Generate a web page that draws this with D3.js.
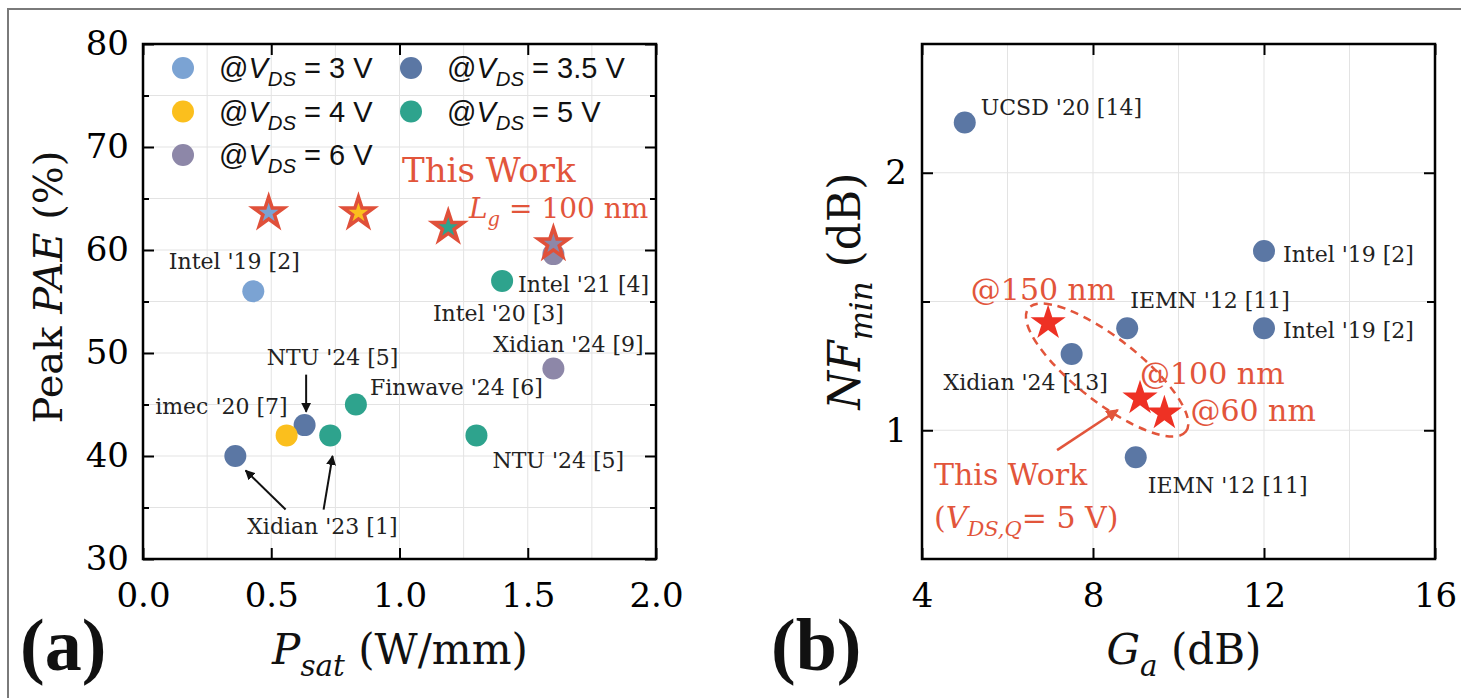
<!DOCTYPE html>
<html>
<head>
<meta charset="utf-8">
<script src="https://cdn.jsdelivr.net/npm/d3@7"></script>
<style>
  body { margin: 0; background: #fff; }
  text { font-family: "DejaVu Serif", serif; }
</style>
</head>
<body>
<div id="fig"></div>
<script>
// ---- panel (a): Peak PAE vs Psat ----
var aLabels = ["Intel '19 [2]", "Intel '21 [4]", "Intel '20 [3]", "Xidian '24 [9]", "NTU '24 [5]",
               "imec '20 [7]", "Xidian '23 [1]", "", "Finwave '24 [6]", "NTU '24 [5]"];
var aPsat = [0.43, 1.40, 1.60, 1.60, 0.63, 0.56, 0.36, 0.73, 0.83, 1.30];
var aPae  = [56, 57, 59.6, 48.5, 43, 42, 40, 42, 45, 42];
var aVds  = ["3", "5", "6", "6", "3.5", "4", "3.5", "5", "5", "5"];

var starPsat = [0.49, 0.84, 1.19, 1.60];
var starPae  = [63.6, 63.6, 62.2, 60.6];
var starVds  = ["3", "4", "5", "6"];

var vdsLevels = ["3", "3.5", "4", "5", "6"];
var vdsColors = ["#7ba3d3", "#5b77a4", "#fbbf1d", "#2ea38d", "#8d87a8"];

var aXTicks = [0.0, 0.5, 1.0, 1.5, 2.0];
var aYTicks = [30, 40, 50, 60, 70, 80];

// ---- panel (b): NFmin vs Ga ----
var bLabels = ["UCSD '20 [14]", "Intel '19 [2]", "Intel '19 [2]", "IEMN '12 [11]", "Xidian '24 [13]", "IEMN '12 [11]"];
var bGa = [5.0, 12.0, 12.0, 8.8, 7.5, 9.0];
var bNf = [2.29, 1.62, 1.316, 1.316, 1.228, 0.93];

var bStarLabels = ["@150 nm", "@100 nm", "@60 nm"];
var bStarGa = [6.95, 9.1, 9.67];
var bStarNf = [1.335, 1.09, 1.047];

var bXTicks = [4, 8, 12, 16];
var bYTicks = [1, 2];

// label placement (pixel offsets from the point, anchor)
var aLabelPos = [[-19, -30, "middle"], [16, 3, "start"], [-55, 59, "middle"], [15, -24, "middle"],
                 [28, -68, "middle"], [1, -29, "end"], [87, 70, "middle"], null,
                 [14, -17, "start"], [16, 25, "start"]];
var bLabelPos = [[16, -15, "start"], [19, 3, "start"], [19, 2, "start"], [3, -28, "start"],
                 [-46, 28, "middle"], [12, 28, "start"]];
var bStarLabelPos = [[-5, -33, "middle"], [0, -25, "start"], [26, -3, "start"]];

var red = "#e2553b";

var svg = d3.select("#fig").append("svg")
  .attr("width", 1461)
  .attr("height", 698);

var defs = svg.append("defs");
[["arrK", "#111"], ["arrR", red]].forEach(function(m) {
  defs.append("marker")
    .attr("id", m[0])
    .attr("viewBox", "0 0 10 10")
    .attr("refX", 9).attr("refY", 5)
    .attr("markerWidth", 5).attr("markerHeight", 5)
    .attr("orient", "auto")
    .append("path").attr("d", "M0,0 L10,5 L0,10 z").attr("fill", m[1]);
});

// outer figure border
svg.append("rect")
  .attr("x", 8).attr("y", 9).attr("width", 1470).attr("height", 720)
  .attr("fill", "none").attr("stroke", "#7a7a7a").attr("stroke-width", 2);

// rich text with italic / subscript parts
function rich(sel, parts, size) {
  var sub = false;
  parts.forEach(function(p) {
    var ts = sel.append("tspan").text(p[0]);
    var st = p[1] || "";
    if (st.indexOf("i") >= 0) ts.attr("font-style", "italic");
    if (st.indexOf("s") >= 0) {
      ts.attr("font-size", size * 0.7);
      if (!sub) ts.attr("dy", size * 0.28);
      sub = true;
    } else if (sub) {
      ts.attr("dy", -size * 0.28);
      sub = false;
    }
  });
}

function colorOf(v) { return vdsColors[vdsLevels.indexOf(v)]; }

var star = function(R) { return d3.symbol(d3.symbolStar, R * R / 0.8908130915292852)(); };

function styleAxis(g, size) {
  g.select(".domain").remove();
  g.selectAll(".tick line").attr("stroke", "#000").attr("stroke-width", 2);
  g.attr("font-size", size);
  g.selectAll(".tick text").attr("fill", "#000");
}

// ================= panel (a) =================
var xa = d3.scaleLinear().domain([0, 2]).range([143, 656]);
var ya = d3.scaleLinear().domain([30, 80]).range([559, 44]);
var ga = svg.append("g");

ga.selectAll(".gx").data(d3.range(0.25, 2, 0.25)).join("line")
  .attr("x1", d => xa(d)).attr("x2", d => xa(d)).attr("y1", ya(30)).attr("y2", ya(80))
  .attr("stroke", "#e3e3e3").attr("stroke-width", 1);
ga.selectAll(".gy").data(d3.range(35, 80, 5)).join("line")
  .attr("y1", d => ya(d)).attr("y2", d => ya(d)).attr("x1", xa(0)).attr("x2", xa(2))
  .attr("stroke", "#e3e3e3").attr("stroke-width", 1);

ga.append("g").attr("transform", "translate(0,559)")
  .call(d3.axisBottom(xa).tickValues(aXTicks).tickSize(-11).tickPadding(24).tickFormat(d3.format(".1f")))
  .call(g => styleAxis(g, 34));
ga.append("g").attr("transform", "translate(0,44)")
  .call(d3.axisTop(xa).tickValues(aXTicks).tickSize(-11).tickFormat(""))
  .call(g => styleAxis(g, 34));
ga.append("g").attr("transform", "translate(143,0)")
  .call(d3.axisLeft(ya).tickValues(aYTicks).tickSize(-11).tickPadding(14).tickFormat(d3.format("d")))
  .call(g => styleAxis(g, 34));
ga.append("g").attr("transform", "translate(143,0)")
  .call(d3.axisLeft(ya).tickValues(d3.range(35, 80, 10)).tickSize(-6).tickFormat(""))
  .call(g => styleAxis(g, 34));
ga.append("g").attr("transform", "translate(656,0)")
  .call(d3.axisRight(ya).tickValues(aYTicks).tickSize(-11).tickFormat(""))
  .call(g => styleAxis(g, 34));
ga.append("g").attr("transform", "translate(656,0)")
  .call(d3.axisRight(ya).tickValues(d3.range(35, 80, 10)).tickSize(-6).tickFormat(""))
  .call(g => styleAxis(g, 34));

ga.append("rect").attr("x", xa(0)).attr("y", ya(80))
  .attr("width", xa(2) - xa(0)).attr("height", ya(30) - ya(80))
  .attr("fill", "none").attr("stroke", "#000").attr("stroke-width", 2.5);

// points
ga.selectAll(".pa").data(d3.range(aPsat.length)).join("circle")
  .attr("cx", i => xa(aPsat[i])).attr("cy", i => ya(aPae[i])).attr("r", 11)
  .attr("fill", i => colorOf(aVds[i]));

ga.selectAll(".sa").data(d3.range(starPsat.length)).join("path")
  .attr("transform", i => `translate(${xa(starPsat[i])},${ya(starPae[i])})`)
  .attr("d", star(16))
  .attr("fill", i => colorOf(starVds[i]))
  .attr("stroke", "#e0503a").attr("stroke-width", 3.5).attr("stroke-linejoin", "miter");

// point labels
aLabels.forEach(function(t, i) {
  var p = aLabelPos[i];
  if (!p) return;
  ga.append("text")
    .attr("x", xa(aPsat[i]) + p[0]).attr("y", ya(aPae[i]) + p[1])
    .attr("dy", "0.35em").attr("text-anchor", p[2])
    .attr("font-size", 22).attr("fill", "#222").text(t);
});

// arrows (data coordinates)
var aArrows = [[0.636, 47.9, 0.636, 44.3], [0.556, 34.8, 0.40, 38.6], [0.704, 34.8, 0.739, 40.0]];
ga.selectAll(".arr").data(aArrows).join("line")
  .attr("x1", d => xa(d[0])).attr("y1", d => ya(d[1]))
  .attr("x2", d => xa(d[2])).attr("y2", d => ya(d[3]))
  .attr("stroke", "#111").attr("stroke-width", 2).attr("marker-end", "url(#arrK)");

// legend
var legendRows = [["3", 0, 0], ["4", 0, 1], ["6", 0, 2], ["3.5", 1, 0], ["5", 1, 1]];
legendRows.forEach(function(r) {
  var cx = r[1] === 0 ? 183 : 411, cy = 68 + r[2] * 43.5;
  ga.append("circle").attr("cx", cx).attr("cy", cy).attr("r", 11).attr("fill", colorOf(r[0]));
  var t = ga.append("text").attr("x", cx + 36).attr("y", cy + 10)
    .style("font-family", "'Liberation Sans', Arial, sans-serif").attr("font-size", 29).attr("fill", "#111");
  rich(t, [["@"], ["V", "i"], ["DS", "is"], [" = " + r[0] + " V"]], 29);
});

ga.append("text").attr("x", 402).attr("y", 182).attr("font-size", 34).attr("fill", red).text("This Work");
var lg = ga.append("text").attr("x", 469).attr("y", 218).attr("font-size", 28).attr("fill", red);
rich(lg, [["L", "i"], ["g", "is"], [" = 100 nm"]], 28);

// axis titles
var ta = ga.append("text").attr("transform", "translate(62,287) rotate(-90)")
  .attr("text-anchor", "middle").attr("font-size", 40).attr("fill", "#111");
rich(ta, [["Peak "], ["PAE", "i"], [" (%)"]], 40);
var txa = ga.append("text").attr("x", 400).attr("y", 664)
  .attr("text-anchor", "middle").attr("font-size", 42).attr("fill", "#111");
rich(txa, [["P", "i"], ["sat", "is"], [" (W/mm)"]], 42);
ga.append("text").attr("x", 20).attr("y", 670)
  .style("font-family", "'Liberation Serif', serif").attr("font-weight", "bold")
  .attr("font-size", 74).attr("fill", "#111").text("(a)");

// ================= panel (b) =================
var xb = d3.scaleLinear().domain([4, 16]).range([922, 1435]);
var yb = d3.scaleLog().domain([Math.SQRT1_2, 2 * Math.SQRT2]).range([559, 44]);
var gb = svg.append("g");

gb.selectAll(".gx").data([6, 8, 10, 12, 14]).join("line")
  .attr("x1", d => xb(d)).attr("x2", d => xb(d)).attr("y1", 559).attr("y2", 44)
  .attr("stroke", "#e3e3e3").attr("stroke-width", 1);
gb.selectAll(".gy").data([1, Math.SQRT2, 2]).join("line")
  .attr("y1", d => yb(d)).attr("y2", d => yb(d)).attr("x1", 922).attr("x2", 1435)
  .attr("stroke", "#e3e3e3").attr("stroke-width", 1);

gb.append("g").attr("transform", "translate(0,559)")
  .call(d3.axisBottom(xb).tickValues(bXTicks).tickSize(-11).tickPadding(24).tickFormat(d3.format("d")))
  .call(g => styleAxis(g, 34));
gb.append("g").attr("transform", "translate(0,44)")
  .call(d3.axisTop(xb).tickValues(bXTicks).tickSize(-11).tickFormat(""))
  .call(g => styleAxis(g, 34));
gb.append("g").attr("transform", "translate(922,0)")
  .call(d3.axisLeft(yb).tickValues(bYTicks).tickSize(-11).tickPadding(15).tickFormat(d3.format("d")))
  .call(g => styleAxis(g, 34));
gb.append("g").attr("transform", "translate(922,0)")
  .call(d3.axisLeft(yb).tickValues([Math.SQRT2]).tickSize(-8).tickFormat(""))
  .call(g => styleAxis(g, 34));
gb.append("g").attr("transform", "translate(1435,0)")
  .call(d3.axisRight(yb).tickValues(bYTicks).tickSize(-11).tickFormat(""))
  .call(g => styleAxis(g, 34));
gb.append("g").attr("transform", "translate(1435,0)")
  .call(d3.axisRight(yb).tickValues([Math.SQRT2]).tickSize(-8).tickFormat(""))
  .call(g => styleAxis(g, 34));

gb.append("rect").attr("x", 922).attr("y", 44).attr("width", 1435 - 922).attr("height", 559 - 44)
  .attr("fill", "none").attr("stroke", "#000").attr("stroke-width", 2.5);

gb.selectAll(".pb").data(d3.range(bGa.length)).join("circle")
  .attr("cx", i => xb(bGa[i])).attr("cy", i => yb(bNf[i])).attr("r", 11)
  .attr("fill", "#5b77a4");

bLabels.forEach(function(t, i) {
  var p = bLabelPos[i];
  gb.append("text")
    .attr("x", xb(bGa[i]) + p[0]).attr("y", yb(bNf[i]) + p[1])
    .attr("dy", "0.35em").attr("text-anchor", p[2])
    .attr("font-size", 22).attr("fill", "#222").text(t);
});

// dashed ellipse around this work
var ec = [xb(8.33), yb(1.176)];
gb.append("ellipse")
  .attr("transform", `translate(${ec[0]},${ec[1]}) rotate(38)`)
  .attr("rx", 100).attr("ry", 32)
  .attr("fill", "none").attr("stroke", red).attr("stroke-width", 2.5).attr("stroke-dasharray", "8,6");

gb.selectAll(".sb").data(d3.range(bStarGa.length)).join("path")
  .attr("transform", i => `translate(${xb(bStarGa[i])},${yb(bStarNf[i])})`)
  .attr("d", star(18.5))
  .attr("fill", "#ee3124");

bStarLabels.forEach(function(t, i) {
  var p = bStarLabelPos[i];
  gb.append("text")
    .attr("x", xb(bStarGa[i]) + p[0]).attr("y", yb(bStarNf[i]) + p[1])
    .attr("dy", "0.35em").attr("text-anchor", p[2])
    .attr("font-size", 30).attr("fill", red).text(t);
});

gb.append("line")
  .attr("x1", xb(7.16)).attr("y1", yb(0.948)).attr("x2", xb(8.58)).attr("y2", yb(1.056))
  .attr("stroke", red).attr("stroke-width", 2.5).attr("marker-end", "url(#arrR)");

gb.append("text").attr("x", 934).attr("y", 485).attr("font-size", 30).attr("fill", red).text("This Work");
var vq = gb.append("text").attr("x", 934).attr("y", 528).attr("font-size", 30).attr("fill", red);
rich(vq, [["("], ["V", "i"], ["DS,Q", "is"], ["= 5 V)"]], 30);

var tb = gb.append("text").attr("transform", "translate(860,291) rotate(-90)")
  .attr("text-anchor", "middle").attr("font-size", 44).attr("fill", "#111");
rich(tb, [["NF", "i"], ["min", "is"], [" (dB)"]], 44);
var txb = gb.append("text").attr("x", 1184).attr("y", 664)
  .attr("text-anchor", "middle").attr("font-size", 42).attr("fill", "#111");
rich(txb, [["G", "i"], ["a", "is"], [" (dB)"]], 42);
gb.append("text").attr("x", 771).attr("y", 670)
  .style("font-family", "'Liberation Serif', serif").attr("font-weight", "bold")
  .attr("font-size", 74).attr("fill", "#111").text("(b)");
</script>
</body>
</html>
